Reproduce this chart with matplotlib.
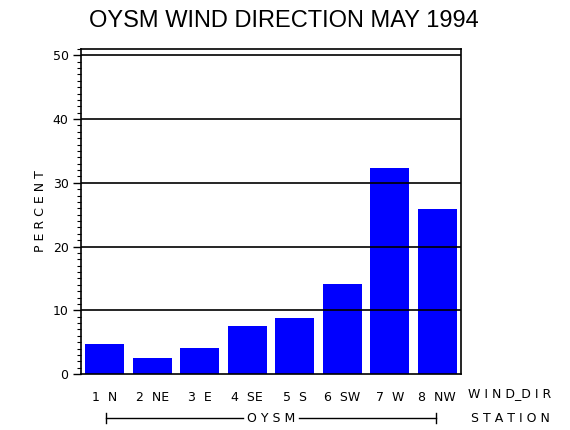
import numpy as np
import matplotlib
matplotlib.use('Agg')
import matplotlib.pyplot as plt
from matplotlib.ticker import MultipleLocator

# data
dirs = ['1  N', '2  NE', '3  E', '4  SE', '5  S', '6  SW', '7  W', '8  NW']
percent = [4.7, 2.5, 4.1, 7.5, 8.8, 14.1, 32.4, 25.9]
station = 'OYSM'

fig = plt.figure(figsize=(5.7, 4.3), dpi=100)
ax = fig.add_axes([81/570, 56/430, 380/570, 325/430])

x = np.arange(1, len(percent) + 1)
ax.bar(x, percent, width=0.82, color='#0000ff', zorder=1)
for yv in range(10, 51, 10):
    ax.axhline(yv, color='black', lw=1.2, zorder=2)

ax.set_xlim(0.5, 8.5)
ax.set_ylim(0, 51)
ax.yaxis.set_major_locator(MultipleLocator(10))
ax.yaxis.set_minor_locator(MultipleLocator(1))
ax.tick_params(axis='y', which='major', length=6, width=1, direction='out',
               labelsize=9, pad=3)
ax.tick_params(axis='y', which='minor', length=3, width=0.8, direction='out')
ax.set_xticks(x)
ax.set_xticklabels(dirs, fontsize=9)
ax.tick_params(axis='x', length=0, pad=12)
for s in ax.spines.values():
    s.set_linewidth(1.2)
ax.set_ylabel('P E R C E N T', fontsize=9, labelpad=4)

fig.text(510/570, 1 - 394/430, 'W I N D_D I R', fontsize=9, ha='center', va='center')
fig.text(510/570, 1 - 419/430, 'S T A T I O N', fontsize=9, ha='center', va='center')
fig.text(271/570, 1 - 419/430, ' '.join(station), fontsize=9, ha='center', va='center')
yl = 1 - 418/430
fig.add_artist(plt.Line2D([106/570, 243/570], [yl, yl], color='black', lw=1))
fig.add_artist(plt.Line2D([299/570, 436/570], [yl, yl], color='black', lw=1))
for xe in (106, 436):
    fig.add_artist(plt.Line2D([xe/570, xe/570], [yl - 5/430, yl + 5/430], color='black', lw=1))

fig.text(284/570, 1 - 21/430, 'OYSM WIND DIRECTION MAY 1994', fontsize=17,
         family='Liberation Sans', ha='center', va='center')

fig.savefig('out.png', dpi=100)
